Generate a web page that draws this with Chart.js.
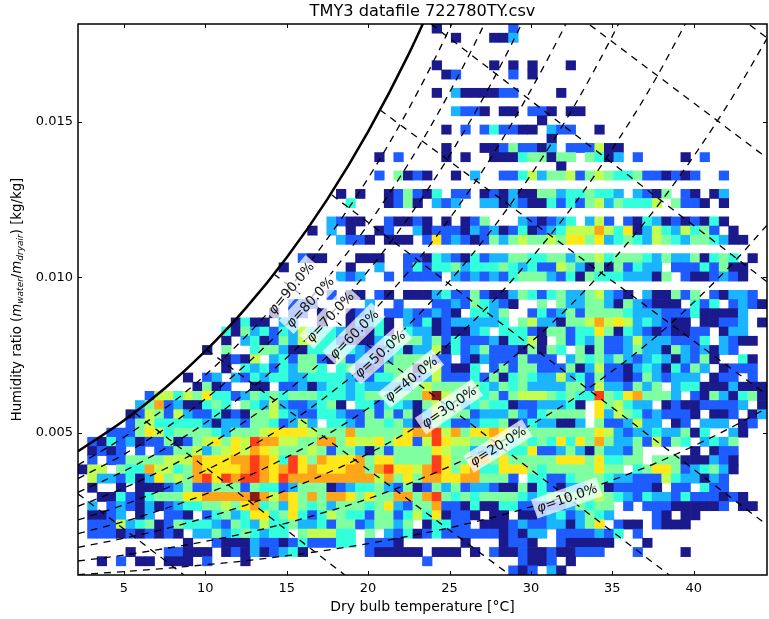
<!DOCTYPE html>
<html>
<head>
<meta charset="utf-8">
<title>TMY3 datafile 722780TY.csv</title>
<script src="https://cdn.jsdelivr.net/npm/chart.js@4/dist/chart.umd.min.js"></script>
<style>
  html, body { margin: 0; padding: 0; background: #fff; }
  #wrap { width: 769px; height: 619px; }
</style>
</head>
<body>
<div id="wrap"><canvas id="chart" width="769" height="619"></canvas></div>
<script>
const xMin = 2.18, xMax = 44.5, yMin = 0.00043, yMax = 0.01815;
const nCols = 72, nRows = 60;

const xTicks = [5, 10, 15, 20, 25, 30, 35, 40];
const yTicks = [0.005, 0.010, 0.015];

// hour counts per cell (top row first, 10 columns per group)
const levelColors = {
  1: '#1a1a8c', 2: '#1f5cff', 3: '#1ab4ff', 4: '#33ffdc', 5: '#80ffa0',
  6: '#c2ff50', 7: '#ffe81a', 8: '#ffa51a', 9: '#ff3d1a', a: '#8b1a1a',
};
const gridRows = [
  '.......... .......... .......... .......1.. .....2....',
  '.......... .......... .......... .........1 ...113....',
  '',
  '',
  '.......... .......... .......... .......1.. ...1.1.1.. .1........',
  '.......... .......... .......... ........12 .....2.1..',
  '',
  '.......... .......... .......... .......1.3 111122.... 1.........',
  '',
  '.......... .......... .......... .........3 221.11.221 .11.......',
  '.......... .......... .......... .......... ........1.',
  '.......... .......... .......... ........1. 2.242211.3 22..1.....',
  '.......... .......... .......... .......... .........1',
  '.......... .......... .......... ........1. ..11252213 .222611...',
  '.......... .......... .......... .1.2....1. 1..1114551 55.5413.2. ...1.2....',
  '.......... .......... .......... .......... .......... 1.........',
  '.......... .......... .......... .2.5121..1 .3..224635 5625654452 21212..2..',
  '',
  '.......... .......... .......1.1 ..125214.2 2.12131155 3445443.32 15.21.13..',
  '.......... .......... ........4. ..1251.323 ..33132114 2425635444 6.5221.1..',
  '',
  '.......... .......... ......3211 ..21121.1. 125...3212 34.362.214 31212141..',
  '.......... .......... ....1.3.1. .12..31222 1323124123 4666864713 6436452.1.',
  '.......... .......... .......322 1.111.2723 2125356556 5775734543 6543554311',
  '',
  '.......... .......... ...211...1 11..221432 1423355445 5355645554 353351454. 1.',
  '.......... .......... .1......1. .3..242445 3444543422 6531515243 3.22242511',
  '.......... .......... .......323 ..2.2222.3 2323245553 2415444333 15.2112321',
  '',
  '.......... .......... ......2.11 .21.111342 2521135424 53356321.3 11525.2133 2.',
  '.......... .......... ..222..... 3..2...223 254321..5. 5335531532 111.424.23 21',
  '.......... .......... 1.22.1..12 3.22322321 .4435..242 3525555433 3222411113',
  '.......... ......1411 .33..1..13 341.324123 33334.5633 1556867634 3211.11223 .1',
  '.......... .....41534 2436444312 141.433121 134.444215 5244751432 121122.133',
  '.......... .....1.341 2536644221 1345553524 222314461. 5243522363 332224.321 1.',
  '.......... ...1.5..45 5311444443 2234133614 2352221515 4.51522353 315323132.',
  '.......... .....1216. 3425521523 313555522. 2132225222 .354535323 4313251..4 1.',
  '.......... .....1.434 243554.452 1255515621 14.2525522 2513622134 314253.122 2.',
  '.......... .1.23.3243 4433444432 2445523622 2425145433 6342522125 32333.122. 2.',
  '.......... ..1512..11 .223134434 3333356555 5543545333 3552633253 5.34411131 11',
  '.......266 4657442354 5455544434 5545558a65 5545256665 4544954785 553.215314 51',
  '......3582 311454.543 63223451.4 4244315645 3454412233 341.756433 .121122223 .1',
  '.....12652 6322412155 6432244322 5252513655 5233353245 555.736542 32221.112. 13',
  '.....25644 4443133255 42363.4432 5545312542 2344512433 113.522363 3.12.333.1 2.',
  '...2225764 5555435556 7777655585 5555788968 5778755555 5555763233 433514..31',
  '.214231225 1256757698 8665588576 6757726976 6557545454 7475853352 6254.3435.',
  '.1212.2.22 5563567687 6555652553 1525555765 5333544722 353153325. ....1.122.',
  '.2.2255556 6687778898 7497587778 5775555975 5885755555 777574455. 555111321.',
  '166.544866 4587777898 7897877788 5897768975 7844777545 5555755.45 775234531.',
  '.633241375 6589798998 7988888888 8685758877 885552.442 2455543322 26433132..',
  '.1..1.1112 3522555254 4235551234 4532512535 2332115142 1335512222 1.22.422..',
  '..11421455 57788888a8 6875858875 7558858954 5455554345 5555654324 3324222121',
  '.3.2321312 3445565784 5375453555 4573255822 1411442222 235455.2.2 22111112.1 1.',
  '.1123.13.2 21.2453477 4574246544 2552464712 21.11.1123 423543.... 21.11.....',
  '.222634512 5444325436 4453342552 35535.1442 2.11123223 31357.211. 2111......',
  '.222121212 1.33534543 44.566644. 5.32412422 222212133. 2222324.2.',
  '.......... .1..211132 212422244. 2221...... 1...1221.. 211111...1',
  '.....1...2 2111.12131 2341...... 211111.111 .1.2112112 11222...2. ...1......',
  '..1.2.11.1 11.2...1.. .......... ......2... ......2112 .1........',
  '.......... .......... .......... .......... .....212.3 1.........',
];

// saturation curve and constant relative humidity curves
const curveTemps = [2.18, 5, 7.5, 10, 12.5, 15, 17.5, 20, 22.5, 25, 27.5, 30, 32.5, 35, 37.5, 40, 42.5, 44.5];
const satW = [.00441, .0054, .00643, .00763, .00902, .01064, .01252, .01469, .01719, .02006];
const rh90 = [.00397, .00486, .00578, .00686, .00811, .00956, .01125, .01319, .01543, .018, .02094];
const rh80 = [.00353, .00431, .00513, .00609, .0072, .00848, .00998, .0117, .01368, .01595, .01855, .02155];
const rh70 = [.00309, .00377, .00449, .00532, .00629, .00742, .00871, .01021, .01194, .01392, .01618, .01878, .02172];
const rh60 = [.00264, .00323, .00384, .00455, .00539, .00634, .00746, .00874, .0102, .01189, .01381, .01603, .01853, .02142];
const rh50 = [.0022, .00269, .0032, .00379, .00448, .00527, .0062, .00726, .00848, .00988, .01147, .0133, .01537, .01776, .02043];
const rh40 = [.00176, .00215, .00256, .00303, .00358, .00422, .00495, .00579, .00677, .00788, .00914, .01061, .01224, .01413, .01624, .01866];
const rh30 = [.00132, .00161, .00191, .00227, .00268, .00316, .00371, .00433, .00505, .00589, .00683, .00792, .00914, .01054, .01211, .0139, .0159, .01768];
const rh20 = [.00088, .00107, .00128, .00151, .00178, .0021, .00247, .00288, .00337, .00392, .00454, .00526, .00606, .00699, .00802, .0092, .01051, .01168];
const rh10 = [.00044, .00054, .00064, .00076, .00089, .00105, .00123, .00144, .00168, .00195, .00226, .00262, .00302, .00348, .00399, .00458, .00523, .0058];
const rhCurves = [rh90, rh80, rh70, rh60, rh50, rh40, rh30, rh20, rh10];

// constant wet bulb lines: [t0, w0, t1, w1]
const wetBulbLines = [
  [43.45, .01812, 44.5, .0177],
  [33.62, .01812, 44.5, .01384],
  [23.86, .01815, 44.5, .00986],
  [20.72, .01539, 44.5, .00622],
  [17.78, .01265, 44.5, .00204],
  [14.21, .01011, 38.5, .00043],
  [10.1, .00767, 28.71, .00043],
  [5.68, .00564, 18.57, .00043],
  [2.18, .00304, 8.69, .00043],
];

// curve labels
const rhLabels = ['=90.0%', '=80.0%', '=70.0%', '=60.0%', '=50.0%', '=40.0%', '=30.0%', '=20.0%', '=10.0%'];
const rhLabelT = [15.26, 16.42, 17.65, 19.13, 20.72, 22.63, 24.96, 27.97, 32.21];
const rhLabelW = [.00966, .00921, .00873, .00818, .00754, .00674, .00584, .00458, .00291];
const rhLabelAngle = [50, 47, 47, 45, 42, 39, 34.5, 32, 19];

const FONT = '"DejaVu Sans", sans-serif';
const dx = (xMax - xMin) / nCols;
const dy = (yMax - yMin) / nRows;

const cells = [];
const cellColors = [];
gridRows.forEach((row, r) => {
  const s = row.replace(/ /g, '');
  for (let c = 0; c < s.length; c++) {
    if (s[c] === '.') continue;
    cells.push({ x: xMin + (c + 0.5) * dx, y: [yMax - (r + 1) * dy, yMax - r * dy] });
    cellColors.push(levelColors[s[c]]);
  }
});

const lineDefaults = { type: 'scatter', showLine: true, pointRadius: 0, order: 1, borderColor: '#000', fill: false };

const datasets = [{
  type: 'bar', data: cells, backgroundColor: cellColors, borderWidth: 0,
  barPercentage: 1, categoryPercentage: 1, order: 10,
}];
datasets.push({
  ...lineDefaults, borderWidth: 2.5, cubicInterpolationMode: 'monotone',
  data: satW.map((w, i) => ({ x: curveTemps[i], y: w })),
});
rhCurves.forEach(curve => {
  datasets.push({
    ...lineDefaults, borderWidth: 1.3, borderDash: [7, 6], cubicInterpolationMode: 'monotone',
    data: curve.map((w, i) => ({ x: curveTemps[i], y: w })),
  });
});
wetBulbLines.forEach(l => {
  datasets.push({
    ...lineDefaults, borderWidth: 1.3, borderDash: [7, 6],
    data: [{ x: l[0], y: l[1] }, { x: l[2], y: l[3] }],
  });
});

const labelsPlugin = {
  id: 'rhLabels',
  afterDatasetsDraw(chart) {
    const { ctx, scales: { x, y } } = chart;
    const plain = `13.5px ${FONT}`, ital = `italic 13.5px ${FONT}`;
    ctx.save();
    ctx.textAlign = 'left';
    ctx.textBaseline = 'middle';
    rhLabels.forEach((txt, i) => {
      ctx.font = ital;
      const phiW = ctx.measureText('φ').width;
      ctx.font = plain;
      const w = phiW + ctx.measureText(txt).width;
      ctx.save();
      ctx.translate(x.getPixelForValue(rhLabelT[i]), y.getPixelForValue(rhLabelW[i]));
      ctx.rotate(-rhLabelAngle[i] * Math.PI / 180);
      ctx.fillStyle = 'rgba(255,255,255,0.72)';
      ctx.fillRect(-w / 2 - 3, -10, w + 6, 20);
      ctx.fillStyle = '#111';
      ctx.font = ital;
      ctx.fillText('φ', -w / 2, 1);
      ctx.font = plain;
      ctx.fillText(txt, -w / 2 + phiW, 1);
      ctx.restore();
    });
    ctx.restore();
  },
};

const framePlugin = {
  id: 'frame',
  afterDraw(chart) {
    const { ctx, chartArea: a, scales: { x, y } } = chart;
    ctx.save();
    ctx.strokeStyle = '#000';
    ctx.lineWidth = 1;
    ctx.beginPath();
    xTicks.forEach(t => {
      const p = Math.round(x.getPixelForValue(t)) + 0.5;
      ctx.moveTo(p, a.bottom); ctx.lineTo(p, a.bottom - 4);
      ctx.moveTo(p, a.top); ctx.lineTo(p, a.top + 4);
    });
    yTicks.forEach(t => {
      const p = Math.round(y.getPixelForValue(t)) + 0.5;
      ctx.moveTo(a.left, p); ctx.lineTo(a.left + 4, p);
      ctx.moveTo(a.right, p); ctx.lineTo(a.right - 4, p);
    });
    ctx.stroke();
    ctx.lineWidth = 1.5;
    ctx.strokeRect(a.left, a.top, a.right - a.left, a.bottom - a.top);

    // titles centred on the plot box, not on the canvas
    const cx = (a.left + a.right) / 2;
    ctx.fillStyle = '#000';
    ctx.textAlign = 'center';
    ctx.textBaseline = 'middle';
    ctx.font = `16.2px ${FONT}`;
    ctx.fillText('TMY3 datafile 722780TY.csv', cx, 12);
    ctx.font = `14px ${FONT}`;
    ctx.fillText('Dry bulb temperature [°C]', cx, 607);

    // y axis title has subscripts, so it is set piece by piece
    const parts = [
      ['Humidity ratio (', `13.3px ${FONT}`, 0],
      ['m', `italic 13.3px ${FONT}`, 0],
      ['water', `italic 9px ${FONT}`, 3],
      ['/', `13.3px ${FONT}`, 0],
      ['m', `italic 13.3px ${FONT}`, 0],
      ['dryair', `italic 9px ${FONT}`, 3],
      [') [kg/kg]', `13.3px ${FONT}`, 0],
    ];
    let total = 0;
    parts.forEach(p => { ctx.font = p[1]; total += ctx.measureText(p[0]).width; });
    ctx.translate(18, (a.top + a.bottom) / 2);
    ctx.rotate(-Math.PI / 2);
    ctx.textAlign = 'left';
    let pos = -total / 2;
    parts.forEach(p => {
      ctx.font = p[1];
      ctx.fillText(p[0], pos, p[2]);
      pos += ctx.measureText(p[0]).width;
    });
    ctx.restore();
  },
};

new Chart(document.getElementById('chart'), {
  type: 'bar',
  data: { datasets },
  plugins: [labelsPlugin, framePlugin],
  options: {
    responsive: false,
    animation: false,
    layout: { padding: { top: 24, right: 2, left: 0, bottom: 0 } },
    plugins: {
      legend: { display: false },
      tooltip: { enabled: false },
    },
    scales: {
      x: {
        type: 'linear', min: xMin, max: xMax, offset: false,
        grid: { display: false, offset: false, drawTicks: false },
        border: { display: false },
        afterBuildTicks: s => { s.ticks = xTicks.map(v => ({ value: v })); },
        afterFit: s => { s.height = 44; },
        ticks: { color: '#000', font: { family: FONT, size: 13 }, padding: 6, maxRotation: 0, autoSkip: false },
      },
      y: {
        min: yMin, max: yMax,
        grid: { display: false, drawTicks: false },
        border: { display: false },
        afterBuildTicks: s => { s.ticks = yTicks.map(v => ({ value: v })); },
        afterFit: s => { s.width = 78; },
        ticks: { color: '#000', font: { family: FONT, size: 13 }, padding: 5, callback: v => v.toFixed(3), autoSkip: false },
      },
    },
  },
});
</script>
</body>
</html>
